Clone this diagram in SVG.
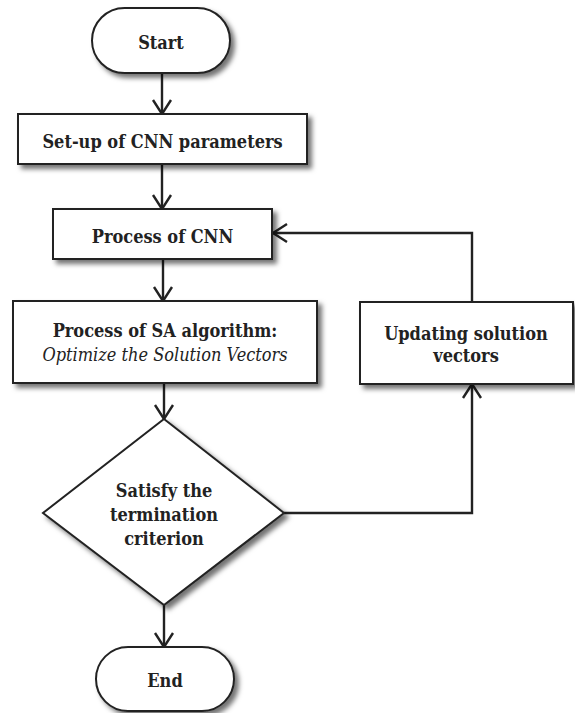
<svg xmlns="http://www.w3.org/2000/svg" width="575" height="713" viewBox="0 0 575 713">
<defs>
<filter id="sh" x="-20%" y="-20%" width="150%" height="150%">
<feDropShadow dx="4" dy="4" stdDeviation="2.5" flood-color="#000" flood-opacity="0.55"/>
</filter>
<marker id="arr" markerUnits="userSpaceOnUse" markerWidth="30" markerHeight="30" viewBox="-15 -15 30 30" refX="0" refY="0" orient="auto">
<path d="M-14,-9 L0,0 L-14,9" fill="none" stroke="#222" stroke-width="2.4"/>
</marker>
<style>
.n{fill:#fff;stroke:#222;stroke-width:2;filter:url(#sh)}
.t{font-family:"DejaVu Serif Condensed","DejaVu Serif",serif;font-stretch:condensed;font-weight:700;font-size:18px;fill:#222;text-anchor:middle}
.i{font-weight:400;font-style:italic}
.c{fill:none;stroke:#222;stroke-width:2.4;marker-end:url(#arr)}
</style>
</defs>
<rect width="575" height="713" fill="#fff"/>
<g id="connectors">
<path class="c" d="M162,73 V114"/>
<path class="c" d="M162,164 V209"/>
<path class="c" d="M163,259 V301"/>
<path class="c" d="M164,383 V419"/>
<path class="c" d="M164,605 V647"/>
<path class="c" d="M284,513 H472 V384"/>
<path class="c" d="M472,302 V233 H273"/>
</g>
<g id="start">
<rect class="n" x="92" y="8" width="138" height="65" rx="32.5"/>
<text class="t" x="161" y="49">Start</text>
</g>
<g id="setup">
<rect class="n" x="18" y="114" width="289" height="50"/>
<text class="t" x="162.5" y="148">Set-up of CNN parameters</text>
</g>
<g id="cnn">
<rect class="n" x="53" y="209" width="219" height="50"/>
<text class="t" x="162.5" y="243">Process of CNN</text>
</g>
<g id="sa">
<rect class="n" x="13" y="301" width="304" height="82"/>
<text class="t" x="165" y="337">Process of SA algorithm:</text>
<text class="t i" x="165" y="361">Optimize the Solution Vectors</text>
</g>
<g id="update">
<rect class="n" x="360" y="302" width="213" height="82"/>
<text class="t" x="466" y="340">Updating solution</text>
<text class="t" x="466" y="362">vectors</text>
</g>
<g id="decision">
<polygon class="n" points="164,419 284,513 164,605 43,513"/>
<text class="t" x="164" y="497">Satisfy the</text>
<text class="t" x="164" y="521">termination</text>
<text class="t" x="164" y="545">criterion</text>
</g>
<g id="end">
<rect class="n" x="96" y="647" width="138" height="64" rx="32"/>
<text class="t" x="165" y="687">End</text>
</g>
</svg>
